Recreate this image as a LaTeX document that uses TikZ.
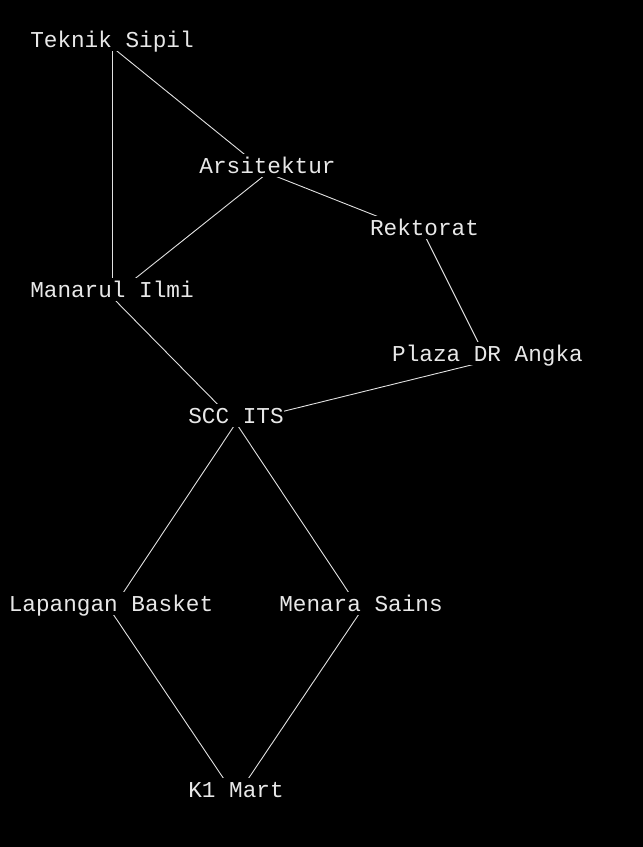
\documentclass[tikz,border=0pt]{standalone}
\usepackage{fontspec}
\setmonofont{Liberation Mono}
\usetikzlibrary{backgrounds}
\definecolor{teks}{RGB}{232,232,232}
\definecolor{garis}{RGB}{225,225,225}

\begin{document}
\begin{tikzpicture}[x=1pt, y=-1pt]

			% Styles
			\tikzstyle{place} = [rectangle, anchor=base, fill=black, inner xsep=0.5pt, inner ysep=0pt, text height=19pt, text depth=4pt, text=teks, font=\ttfamily\fontsize{22.7}{26}\selectfont]
			\tikzstyle{road} = [draw=garis, line width=0.9pt]

			\useasboundingbox (0,0) rectangle (643,847);

			% Nodes
			\node[place] (sipil) at (112,47) {Teknik Sipil};
			\node[place] (arsi) at (267.5,173) {Arsitektur};
			\node[place] (rektorat) at (424.5,235) {Rektorat};
			\node[place] (manarul) at (112,297) {Manarul Ilmi};
			\node[place] (plaza) at (487.5,361) {Plaza DR Angka};
			\node[place] (scc) at (236,423) {SCC ITS};
			\node[place] (basket) at (111,611) {Lapangan Basket};
			\node[place] (sains) at (361,611) {Menara Sains};
			\node[place] (mart) at (236,797) {K1 Mart};

			% Roads (behind the names)
			\begin{pgfonlayer}{background}
				\fill[black] (0,0) rectangle (643,847);
				\draw[road] (sipil.base) -- (manarul.base);
				\draw[road] (sipil.base) -- (arsi.base);
				\draw[road] (arsi.base) -- (manarul.base);
				\draw[road] (arsi.base) -- (rektorat.base);
				\draw[road] (rektorat.base) -- (plaza.base);
				\draw[road] (plaza.base) -- (scc.base);
				\draw[road] (manarul.base) -- (scc.base);
				\draw[road] (scc.base) -- (basket.base);
				\draw[road] (scc.base) -- (sains.base);
				\draw[road] (basket.base) -- (mart.base);
				\draw[road] (sains.base) -- (mart.base);
			\end{pgfonlayer}

		\end{tikzpicture}
\end{document}
